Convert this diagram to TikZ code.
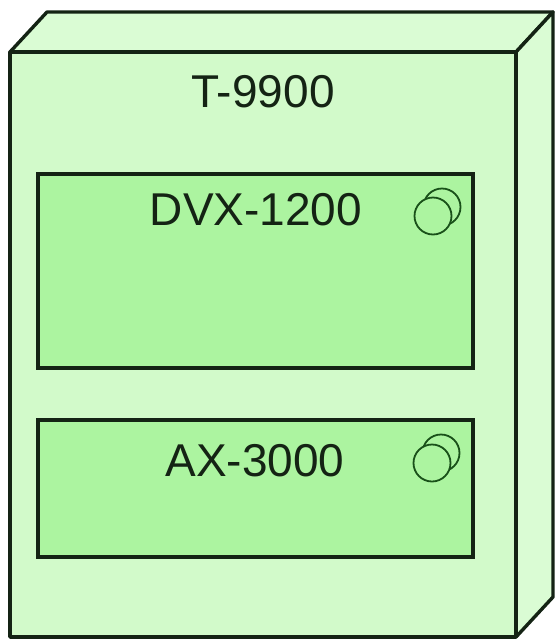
\documentclass[tikz,border=0pt]{standalone}
\usepackage{fontspec}
\setmainfont{Liberation Sans}
\definecolor{nodegreen}{RGB}{210,250,202}
\definecolor{sidegreen}{RGB}{218,252,212}
\definecolor{compgreen}{RGB}{172,244,160}
\definecolor{edgedark}{RGB}{20,35,20}
\definecolor{ringdark}{RGB}{25,80,25}
\tikzset{
  face/.style={draw=edgedark, line width=3.4pt, line join=round},
  comp/.style={draw=edgedark, line width=3.4pt, fill=compgreen},
  label/.style={font=\fontsize{46}{50}\selectfont, text=edgedark, inner sep=0pt},
  ring/.style={draw=ringdark, line width=1.8pt, fill=compgreen, circle, minimum size=37pt, inner sep=0pt}
}
\begin{document}
\begin{tikzpicture}[x=1pt, y=-1pt]
 \useasboundingbox (0,0) rectangle (555,643);
 % node T-9900 as a box
 \draw[face, fill=sidegreen] (10,52) -- (47,12) -- (553,12) -- (516,52) -- cycle;
 \draw[face, fill=sidegreen] (516,52) -- (553,12) -- (553,597) -- (516,637) -- cycle;
 \draw[face, fill=nodegreen] (10,52) rectangle (516,637);
 \node[label] (t9900) at (263,92) {T-9900};
 % components
 \draw[comp] (38,174) rectangle (473,368);
 \node[label] (dvx) at (256,210) {DVX-1200};
 \node[ring] (dvxback) at (442,207) {};
 \node[ring] (dvxfront) at (433,216) {};
 \draw[comp] (38,420) rectangle (473,557);
 \node[label] (ax) at (255,461) {AX-3000};
 \node[ring] (axback) at (441,453) {};
 \node[ring] (axfront) at (432,463) {};
\end{tikzpicture}
\end{document}
